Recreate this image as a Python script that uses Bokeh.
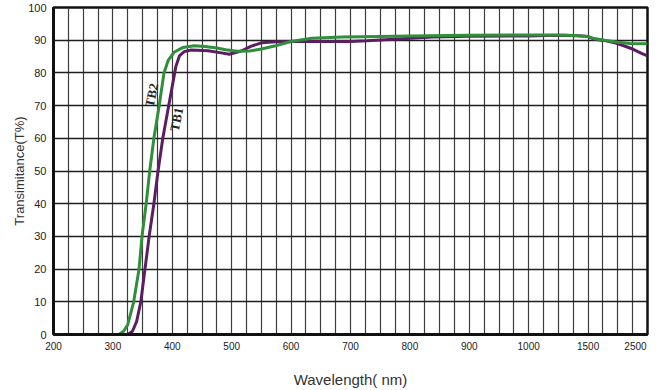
import numpy as np
from bokeh.plotting import figure
from bokeh.models import Range1d, FixedTicker, Label
from bokeh.embed import file_html
from bokeh.resources import INLINE

# Broken wavelength axis: linear 200-1000, then compressed 1000-1500-2500
axis_wl = [200, 1000, 1500, 2500]
axis_pos = [0, 8, 9, 10]

x_tick_values = [200, 300, 400, 500, 600, 700, 800, 900, 1000, 1500, 2500]
x_tick_labels = ["200", "300", "400", "500", "600", "700", "800", "900", "1000", "1500", "2500"]
y_tick_values = [0, 10, 20, 30, 40, 50, 60, 70, 80, 90, 100]

tb1_wl = [325, 333, 340, 347, 354, 361, 369, 376, 384, 394, 401, 406, 412, 420, 432, 460, 480,
          496, 516, 533, 550, 575, 601, 650, 700, 728, 780, 838, 900, 1000, 1150, 1300,
          1450, 1500, 1600, 1800, 1950, 2100, 2250, 2400, 2500]
tb1_t = [0, 1, 4, 10, 20, 30, 40, 50, 60, 70, 77, 82, 85.2, 86.5, 87.0, 86.8, 86.2,
         85.7, 86.7, 88.2, 89.2, 89.5, 89.6, 89.6, 89.6, 89.8, 90.4, 91.0, 91.2, 91.3, 91.4, 91.5,
         91.3, 91.1, 90.3, 89.8, 89.2, 88.3, 87.3, 86.0, 85.2]

tb2_wl = [310, 318, 325, 335, 344, 349, 356, 362, 369, 378, 386, 393, 403, 418, 437, 455,
          475, 490, 510, 530, 550, 572, 600, 635, 686, 750, 800, 900, 1000, 1200, 1400,
          1500, 1600, 1800, 2000, 2200, 2500]
tb2_t = [0, 1, 3, 10, 20, 30, 40, 50, 60, 70, 80, 83.8, 86.3, 87.8, 88.3, 88.1,
         87.6, 87.1, 86.6, 86.7, 87.3, 88.2, 89.6, 90.6, 91.0, 91.1, 91.3, 91.5, 91.6, 91.6, 91.4,
         91.1, 90.5, 89.9, 89.4, 89.0, 88.9]

label_names = ["TB2", "TB1"]
label_wl = [365, 407]
label_t = [73.2, 65.8]


def to_pos(wl):
    return np.interp(wl, axis_wl, axis_pos)


p = figure(width=660, height=390, x_range=Range1d(0, 10), y_range=Range1d(0, 100),
           output_backend="svg", toolbar_location=None,
           min_border_left=53, min_border_right=13, min_border_top=7, min_border_bottom=53)
p.background_fill_color = "white"
p.border_fill_color = "white"
p.outline_line_color = "#111111"
p.outline_line_width = 2.5

x_ticks = [int(round(v)) for v in to_pos(x_tick_values)]
p.xaxis.ticker = FixedTicker(ticks=x_ticks)
overrides = {t: l for t, l in zip(x_ticks, x_tick_labels)}
overrides[x_ticks[-1]] = x_tick_labels[-1] + "\u00a0" * 5
p.xaxis.major_label_overrides = overrides
p.yaxis.ticker = FixedTicker(ticks=y_tick_values)

p.xgrid.ticker = FixedTicker(ticks=list(np.arange(0, 10.001, 0.25)))
p.ygrid.ticker = FixedTicker(ticks=y_tick_values)
p.xgrid.grid_line_color = "#3c3c3c"
p.xgrid.grid_line_width = 1.2
p.ygrid.grid_line_color = "#1e1e1e"
p.ygrid.grid_line_width = 1.6

for ax in (p.xaxis, p.yaxis):
    ax.axis_line_color = "#111111"
    ax.axis_line_width = 3
    ax.major_tick_out = 0
    ax.major_tick_in = 0
    ax.minor_tick_out = 0
    ax.minor_tick_in = 0
    ax.major_label_text_font = "Liberation Sans"
    ax.major_label_text_font_size = "10px"
    ax.major_label_text_color = "#222222"
    ax.axis_label_text_font = "Liberation Sans"
    ax.axis_label_text_font_style = "normal"
    ax.axis_label_text_color = "#333333"

p.xaxis.major_label_standoff = 6
p.xaxis.axis_label = "Wavelength( nm)"
p.xaxis.axis_label_text_font_size = "15px"
p.xaxis.axis_label_standoff = 16

p.yaxis.major_label_text_font_size = "11px"
p.yaxis.major_label_standoff = 7
p.yaxis.axis_label = "Transimitance(T%)"
p.yaxis.axis_label_text_font_size = "13px"
p.yaxis.axis_label_standoff = -2

p.line(to_pos(tb1_wl), tb1_t, line_color="#5b1e62", line_width=3, line_join="round")
p.line(to_pos(tb2_wl), tb2_t, line_color="#2f8f3a", line_width=3, line_join="round")

for name, wl, t in zip(label_names, label_wl, label_t):
    p.add_layout(Label(x=float(to_pos(wl)), y=t, text=name, angle=78, angle_units="deg",
                       text_font="Liberation Serif", text_font_style="bold",
                       text_font_size="13px", text_align="center", text_baseline="middle",
                       text_color="#222222"))

open("out.html", "w").write(file_html(p, INLINE))
